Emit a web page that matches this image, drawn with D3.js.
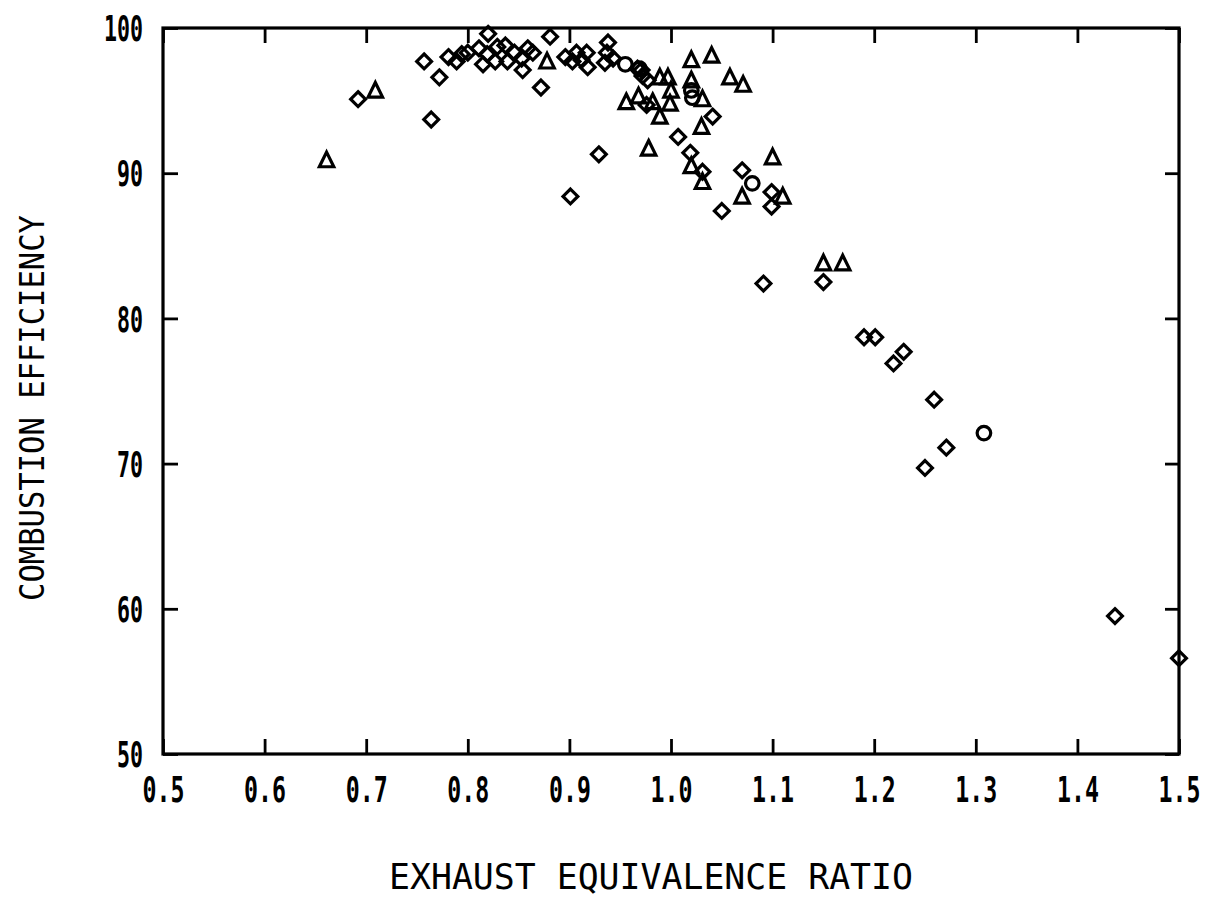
<!DOCTYPE html>
<html>
<head>
<meta charset="utf-8">
<script src="https://cdn.jsdelivr.net/npm/d3@7"></script>
<style>
  html, body { margin: 0; padding: 0; background: #fff; }
  svg { display: block; }
  text { font-family: "DejaVu Sans Mono", "Liberation Mono", monospace; fill: #000; font-feature-settings: "zero" 1; }
</style>
</head>
<body>
<svg id="chart" width="1214" height="918"></svg>
<script>
// ---- data ----
const xTicks = [0.5, 0.6, 0.7, 0.8, 0.9, 1.0, 1.1, 1.2, 1.3, 1.4, 1.5];
const yTicks = [50, 60, 70, 80, 90, 100];
const xTitle = "EXHAUST EQUIVALENCE RATIO";
const yTitle = "COMBUSTION EFFICIENCY";

// diamonds: [equivalence ratio, efficiency]
const diamonds = [
  [0.692, 95.1], [0.757, 97.7], [0.772, 96.6], [0.764, 93.7], [0.781, 98.0],
  [0.789, 97.7], [0.794, 98.2], [0.800, 98.3], [0.811, 98.6], [0.820, 99.6],
  [0.819, 98.2], [0.815, 97.5], [0.829, 98.7], [0.827, 97.7], [0.837, 98.8],
  [0.839, 97.7], [0.846, 98.3], [0.854, 97.1], [0.859, 98.6], [0.853, 97.9],
  [0.864, 98.3], [0.881, 99.4], [0.872, 95.9], [0.896, 98.0], [0.907, 98.3],
  [0.917, 98.3], [0.918, 97.3], [0.903, 97.7], [0.912, 97.8], [0.938, 99.0],
  [0.937, 98.3], [0.935, 97.6], [0.943, 97.9], [0.967, 97.2], [0.971, 97.1],
  [0.972, 96.7], [0.977, 96.4], [0.976, 94.7], [0.929, 91.3], [0.901, 88.4],
  [1.007, 92.5], [1.019, 91.4], [1.041, 93.9], [1.031, 90.1], [1.070, 90.2],
  [1.050, 87.4], [1.099, 88.7], [1.099, 87.7], [1.150, 82.5], [1.091, 82.4],
  [1.190, 78.7], [1.201, 78.7], [1.229, 77.7], [1.219, 76.9], [1.259, 74.4],
  [1.271, 71.1], [1.250, 69.7], [1.437, 59.5], [1.500, 56.6]
];
// triangles
const triangles = [
  [0.661, 90.9], [0.709, 95.7], [0.878, 97.7], [0.989, 96.6], [0.997, 96.6],
  [1.000, 95.7], [0.956, 94.9], [0.968, 95.3], [0.982, 94.9], [0.999, 94.8],
  [0.989, 93.9], [1.020, 97.8], [1.040, 98.1], [1.020, 96.4], [1.031, 95.1],
  [1.030, 93.2], [1.058, 96.6], [1.071, 96.1], [0.978, 91.7], [1.020, 90.5],
  [1.031, 89.4], [1.070, 88.4], [1.100, 91.1], [1.110, 88.4], [1.150, 83.8],
  [1.169, 83.8]
];
// circles
const circles = [
  [0.955, 97.5], [0.969, 97.2], [1.020, 95.7], [1.021, 95.2], [1.080, 89.3],
  [1.308, 72.1]
];

// ---- layout ----
const L = 163, R = 1179, T = 28, B = 754;
const svg = d3.select("#chart");
const x = d3.scaleLinear().domain([0.5, 1.5]).range([L, R]);
const y = d3.scaleLinear().domain([50, 100]).range([B, T]);

const fmtX = d3.format(".1f");
const fmtY = d3.format("d");

function styleAxis(g) {
  g.select(".domain").remove();
  g.selectAll(".tick line").attr("stroke", "#000").attr("stroke-width", 2.8);
}

// bottom
const gB = svg.append("g").attr("transform", `translate(0,${B})`)
  .call(d3.axisBottom(x).tickValues(xTicks).tickSize(-15).tickFormat(fmtX));
styleAxis(gB);
gB.selectAll(".tick text")
  .attr("y", 48).attr("dy", 0)
  .attr("font-size", 35).attr("font-weight", "bold")
  .attr("textLength", 42).attr("lengthAdjust", "spacingAndGlyphs")
  .attr("text-anchor", "middle");

// top
const gT = svg.append("g").attr("transform", `translate(0,${T})`)
  .call(d3.axisTop(x).tickValues(xTicks).tickSize(-15).tickFormat(""));
styleAxis(gT);

// left
const gL = svg.append("g").attr("transform", `translate(${L},0)`)
  .call(d3.axisLeft(y).tickValues(yTicks).tickSize(-15).tickFormat(fmtY));
styleAxis(gL);
gL.selectAll(".tick text")
  .attr("x", -20).attr("dy", "0.36em")
  .attr("font-size", 35).attr("font-weight", "bold")
  .attr("text-anchor", "end")
  .each(function(d) {
    d3.select(this).attr("textLength", String(fmtY(d)).length * 13).attr("lengthAdjust", "spacingAndGlyphs");
  });

// right
const gR = svg.append("g").attr("transform", `translate(${R},0)`)
  .call(d3.axisRight(y).tickValues(yTicks).tickSize(-14).tickFormat(""));
styleAxis(gR);

// frame
svg.append("rect")
  .attr("x", L).attr("y", T).attr("width", R - L).attr("height", B - T)
  .attr("fill", "none").attr("stroke", "#000").attr("stroke-width", 3.2);

// titles
svg.append("text")
  .attr("x", (L + R) / 2 - 20).attr("y", 889)
  .attr("text-anchor", "middle")
  .attr("font-size", 35)
  .attr("textLength", 524).attr("lengthAdjust", "spacingAndGlyphs")
  .text(xTitle);

svg.append("text")
  .attr("transform", `translate(44,${408}) rotate(-90)`)
  .attr("text-anchor", "middle")
  .attr("font-size", 34)
  .attr("textLength", 386).attr("lengthAdjust", "spacingAndGlyphs")
  .text(yTitle);

// markers
const marks = svg.append("g").attr("fill", "none").attr("stroke", "#000").attr("stroke-width", 3.2);

marks.selectAll("path.diamond").data(diamonds).join("path")
  .attr("class", "diamond")
  .attr("transform", d => `translate(${x(d[0])},${y(d[1])})`)
  .attr("d", "M0,-7.4L7.4,0L0,7.4L-7.4,0Z");

marks.selectAll("path.tri").data(triangles).join("path")
  .attr("class", "tri")
  .attr("transform", d => `translate(${x(d[0])},${y(d[1])})`)
  .attr("d", "M0,-8L7.2,6.6L-7.2,6.6Z");

marks.selectAll("circle").data(circles).join("circle")
  .attr("cx", d => x(d[0])).attr("cy", d => y(d[1])).attr("r", 6.8);
</script>
</body>
</html>
